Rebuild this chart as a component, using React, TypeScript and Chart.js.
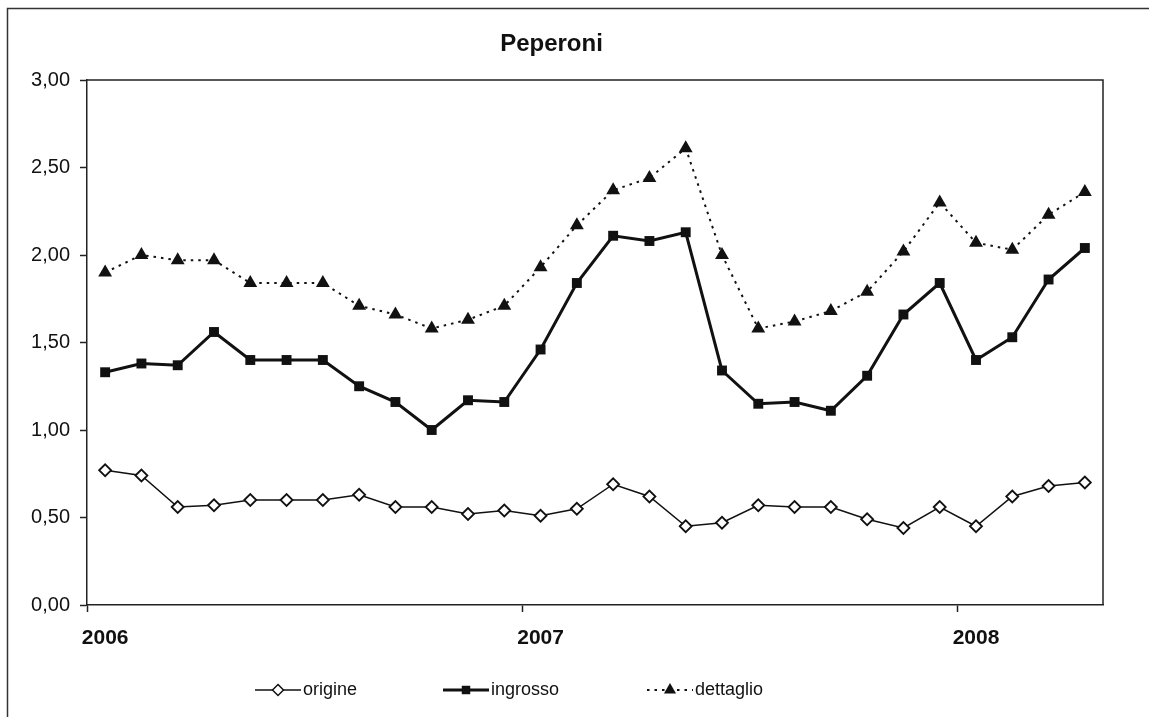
import React, { useEffect, useRef } from "react";
import { Chart, registerables } from "chart.js";

Chart.register(...registerables);

const categories = [
  "2006-01", "2006-02", "2006-03", "2006-04", "2006-05", "2006-06",
  "2006-07", "2006-08", "2006-09", "2006-10", "2006-11", "2006-12",
  "2007-01", "2007-02", "2007-03", "2007-04", "2007-05", "2007-06",
  "2007-07", "2007-08", "2007-09", "2007-10", "2007-11", "2007-12",
  "2008-01", "2008-02", "2008-03", "2008-04",
];

const origine = [
  0.77, 0.74, 0.56, 0.57, 0.6, 0.6, 0.6, 0.63, 0.56, 0.56, 0.52, 0.54,
  0.51, 0.55, 0.69, 0.62, 0.45, 0.47, 0.57, 0.56, 0.56, 0.49, 0.44, 0.56,
  0.45, 0.62, 0.68, 0.7,
];

const ingrosso = [
  1.33, 1.38, 1.37, 1.56, 1.4, 1.4, 1.4, 1.25, 1.16, 1.0, 1.17, 1.16,
  1.46, 1.84, 2.11, 2.08, 2.13, 1.34, 1.15, 1.16, 1.11, 1.31, 1.66, 1.84,
  1.4, 1.53, 1.86, 2.04,
];

const dettaglio = [
  1.9, 2.0, 1.97, 1.97, 1.84, 1.84, 1.84, 1.71, 1.66, 1.58, 1.63, 1.71,
  1.93, 2.17, 2.37, 2.44, 2.61, 2.0, 1.58, 1.62, 1.68, 1.79, 2.02, 2.3,
  2.07, 2.03, 2.23, 2.36,
];

const yTicks = [0, 0.5, 1, 1.5, 2, 2.5, 3];

const title = "Peperoni";
const seriesNames = ["origine", "ingrosso", "dettaglio"];

const INK = "#111";
const FONT = "'Liberation Sans', Arial, sans-serif";

function drawMarker(ctx: CanvasRenderingContext2D, style: string, x: number, y: number, r: number) {
  ctx.save();
  ctx.beginPath();
  ctx.lineWidth = 1.5;
  ctx.strokeStyle = INK;
  if (style === "rectRot") {
    ctx.moveTo(x, y - r);
    ctx.lineTo(x + r, y);
    ctx.lineTo(x, y + r);
    ctx.lineTo(x - r, y);
    ctx.closePath();
    ctx.fillStyle = "#fff";
    ctx.fill();
    ctx.stroke();
  } else if (style === "rect") {
    const s = Math.SQRT1_2 * r;
    ctx.rect(x - s, y - s, 2 * s, 2 * s);
    ctx.fillStyle = INK;
    ctx.fill();
  } else if (style === "triangle") {
    ctx.moveTo(x - 0.866 * r, y + 0.5 * r);
    ctx.lineTo(x + 0.866 * r, y + 0.5 * r);
    ctx.lineTo(x, y - r);
    ctx.closePath();
    ctx.fillStyle = INK;
    ctx.fill();
  }
  ctx.restore();
}

const framePlugin = {
  id: "frame",
  beforeDraw(chart: any) {
    const ctx = chart.ctx as CanvasRenderingContext2D;
    ctx.save();
    ctx.fillStyle = "#fff";
    ctx.fillRect(0, 0, chart.width, chart.height);
    ctx.strokeStyle = "#333";
    ctx.lineWidth = 1.5;
    ctx.beginPath();
    ctx.moveTo(7.5, chart.height);
    ctx.lineTo(7.5, 8.5);
    ctx.lineTo(chart.width, 8.5);
    ctx.stroke();
    ctx.restore();
  },
  afterDraw(chart: any) {
    const ctx = chart.ctx as CanvasRenderingContext2D;
    const a = chart.chartArea;
    ctx.save();
    ctx.strokeStyle = "#222";
    ctx.lineWidth = 1.5;
    ctx.beginPath();
    ctx.moveTo(a.left, a.top);
    ctx.lineTo(a.right, a.top);
    ctx.lineTo(a.right, a.bottom);
    ctx.stroke();

    // legend: line + marker + text for every dataset
    const slots = [255, 443, 647];
    const markerSize = [5.5, 6, 7];
    const ly = 690;
    chart.data.datasets.forEach((ds: any, i: number) => {
      const x0 = slots[i];
      const x1 = x0 + 46;
      ctx.save();
      ctx.strokeStyle = INK;
      ctx.lineWidth = ds.borderWidth;
      ctx.setLineDash(ds.borderDash || []);
      ctx.beginPath();
      ctx.moveTo(x0, ly);
      ctx.lineTo(x1, ly);
      ctx.stroke();
      ctx.restore();
      drawMarker(ctx, ds.pointStyle, (x0 + x1) / 2, ly, markerSize[i]);
      ctx.save();
      ctx.fillStyle = INK;
      ctx.font = `18px ${FONT}`;
      ctx.textBaseline = "middle";
      ctx.textAlign = "left";
      ctx.fillText(ds.label, x1 + 2, ly);
      ctx.restore();
    });
    ctx.restore();
  },
};

export default function App() {
  const ref = useRef<HTMLCanvasElement | null>(null);

  useEffect(() => {
    if (!ref.current) return;
    const chart = new Chart(ref.current, {
      type: "line",
      data: {
        labels: categories,
        datasets: [
          {
            label: seriesNames[0],
            data: origine,
            borderColor: INK,
            borderWidth: 1.5,
            pointStyle: "rectRot",
            pointRadius: 6,
            pointBackgroundColor: "#fff",
            pointBorderColor: INK,
            pointBorderWidth: 1.8,
            tension: 0,
          },
          {
            label: seriesNames[1],
            data: ingrosso,
            borderColor: INK,
            borderWidth: 3,
            pointStyle: "rect",
            pointRadius: 7,
            pointBackgroundColor: INK,
            pointBorderColor: INK,
            pointBorderWidth: 0,
            tension: 0,
          },
          {
            label: seriesNames[2],
            data: dettaglio,
            borderColor: INK,
            borderWidth: 2,
            borderDash: [2.5, 5],
            pointStyle: "triangle",
            pointRadius: 8,
            pointBackgroundColor: INK,
            pointBorderColor: INK,
            pointBorderWidth: 0,
            tension: 0,
          },
        ],
      },
      options: {
        animation: false,
        responsive: true,
        maintainAspectRatio: false,
        layout: { padding: { left: 0, right: 46, top: 0, bottom: 52 } },
        plugins: {
          legend: { display: false },
          tooltip: { enabled: false },
          title: {
            display: true,
            text: title,
            color: INK,
            font: { family: FONT, size: 24, weight: "bold", lineHeight: 1.2 },
            padding: { top: 29.6, bottom: 21.6 },
          },
        },
        scales: {
          x: {
            type: "category",
            offset: true,
            afterFit: (s: any) => {
              s.height = 60;
            },
            grid: {
              offset: true,
              drawOnChartArea: false,
              tickLength: 7,
              tickWidth: 1.5,
              color: (c: any) => (c.index % 12 === 0 ? "#222" : "rgba(0,0,0,0)"),
            },
            border: { color: "#222", width: 1.5 },
            ticks: {
              autoSkip: false,
              maxRotation: 0,
              minRotation: 0,
              padding: 14,
              color: INK,
              font: { family: FONT, size: 21, weight: "bold" },
              callback: (_v: any, i: number) =>
                i % 12 === 0 ? categories[i].slice(0, 4) : "",
            },
          },
          y: {
            min: yTicks[0],
            max: yTicks[yTicks.length - 1],
            afterFit: (s: any) => {
              s.width = 87;
            },
            afterBuildTicks: (s: any) => {
              s.ticks = yTicks.map((v) => ({ value: v }));
            },
            grid: {
              drawOnChartArea: false,
              tickLength: 7,
              tickWidth: 1.5,
              color: "#222",
            },
            border: { color: "#222", width: 1.5 },
            ticks: {
              padding: 10,
              color: INK,
              font: { family: FONT, size: 20 },
              callback: (v: any) => Number(v).toFixed(2).replace(".", ","),
            },
          },
        },
      },
      plugins: [framePlugin],
    });
    return () => chart.destroy();
  }, []);

  return (
    <div style={{ position: "absolute", left: 0, top: 0, width: 1149, height: 717 }}>
      <canvas ref={ref} />
    </div>
  );
}
